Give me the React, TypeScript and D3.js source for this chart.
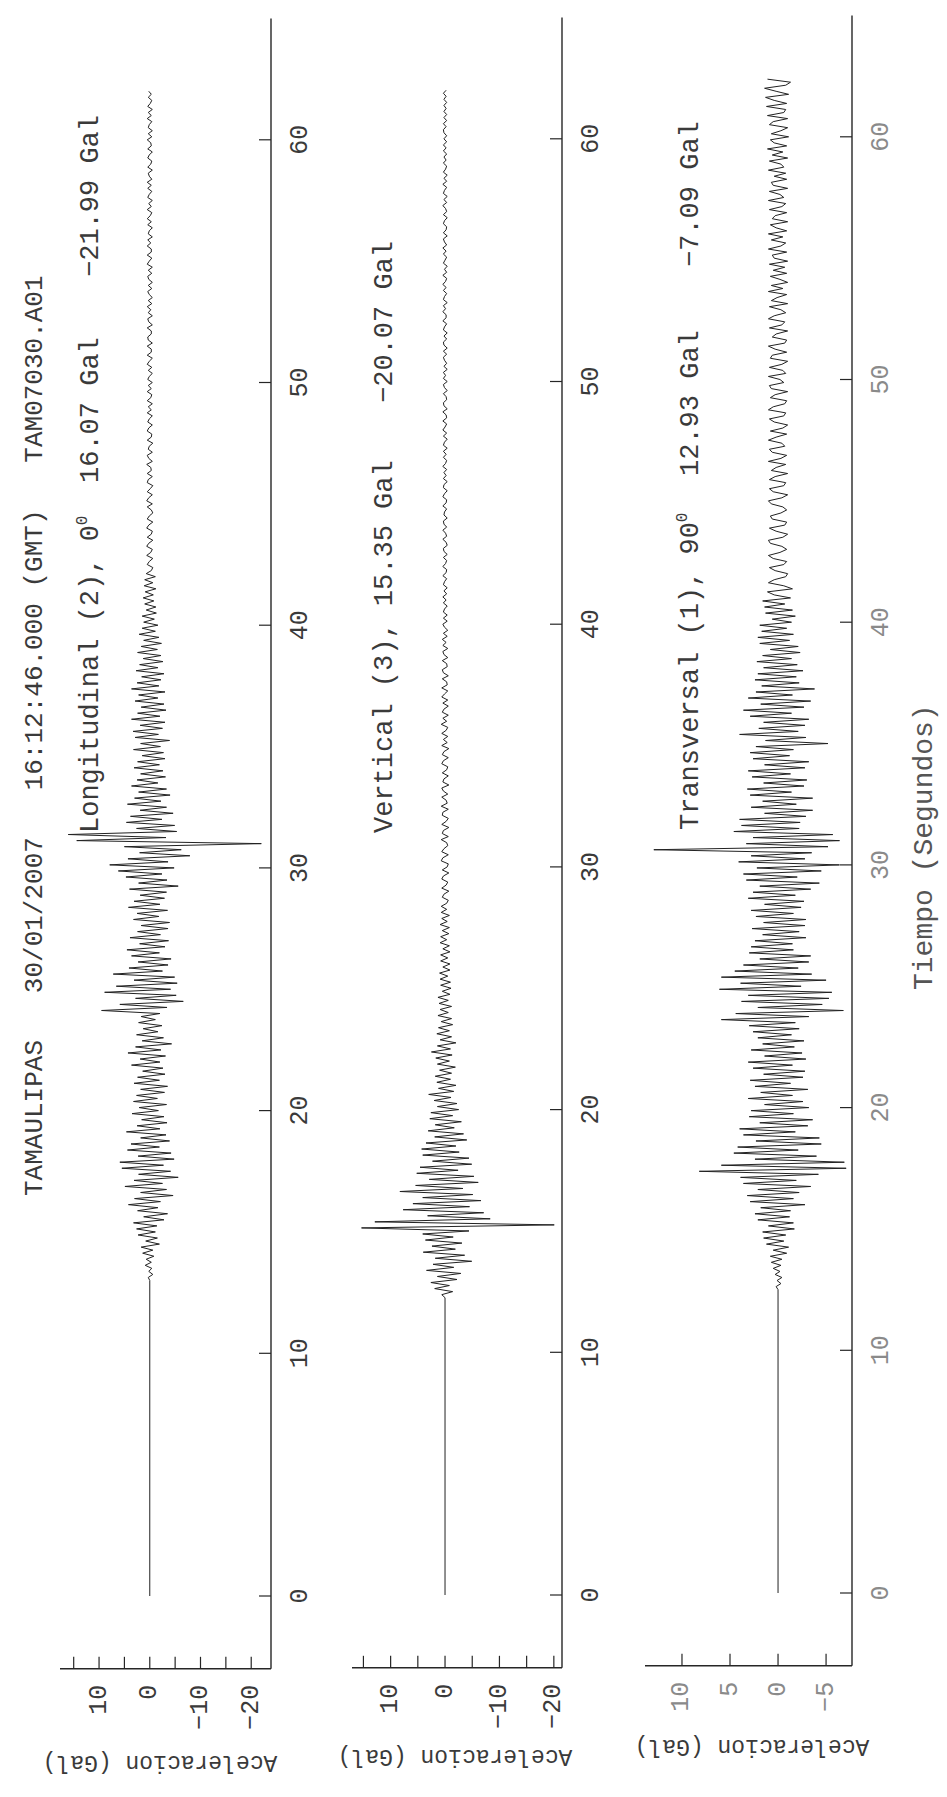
import React from 'react';
import * as d3 from 'd3';

// time between successive turning points of the traces (s)
const DT = 0.125;
const PX_PER_S = 24.27;
const timeTicks = [0, 10, 20, 30, 40, 50, 60];
const timeDomain = [-3, 65];

const titleText = 'TAMAULIPAS   30/01/2007   16:12:46.000 (GMT)   TAM07030.A01';

// Longitudinal (2), 0 deg  -- max 16.07, min -21.99 Gal
const longOnset = 13.0;
const longAcc = [
  0.3, -0.6, 0.2, -0.4, 0.9, -0.3, 0.7, -0.8,
  1.4, -0.6, 1.7, -1.9, 0.8, -1.5, 2.3, -1.1,
  2.6, -1.4, 3.2, -2.8, 1.2, -3.5, 2.4, -1.6,
  4.2, -2.1, 3.0, -4.6, 1.8, -3.3, 4.9, -2.5,
  3.1, -5.6, 2.2, -4.1, 5.5, -2.7, 5.9, -4.8,
  2.3, -4.2, 4.4, -1.9, 3.7, -3.9, 1.8, -3.2,
  4.6, -2.0, 2.5, -3.4, 1.6, -2.8, 3.5, -1.7,
  2.1, -3.3, 3.2, -1.5, 2.6, -2.9, 1.8, -3.5,
  3.1, -1.9, 2.4, -3.0, 1.4, -2.6, 3.6, -2.0,
  1.9, -3.1, 4.3, -2.2, 2.8, -4.3, 1.5, -2.7,
  2.6, -1.6, 1.3, -2.4, 2.2, -1.1, 1.7, -2.0,
  9.5, -3.4, 5.9, -6.6, 2.8, -5.2, 8.9, -4.1,
  6.6, -5.4, 3.1, -4.9, 7.2, -2.5, 4.1, -3.6,
  2.3, -4.2, 3.6, -1.9, 4.5, -3.0, 2.0, -3.7,
  3.9, -2.1, 2.4, -3.6, 1.7, -3.9, 3.2, -1.8,
  2.5, -3.5, 4.2, -2.0, 3.1, -2.9, 1.9, -3.3,
  4.0, -5.6, 2.2, -3.4, 4.7, -2.4, 6.2, -4.8,
  7.9, -3.6, 4.3, -7.9, 2.0, -6.2, 5.0, -21.99,
  14.4, -3.2, 16.07, -5.3, 2.6, -4.9, 4.6, -2.4,
  3.8, -4.6, 1.9, -3.3, 4.4, -2.2, 3.0, -4.0,
  2.2, -3.3, 3.6, -1.6, 2.5, -3.1, 1.8, -2.6,
  3.1, -1.9, 2.4, -3.0, 1.5, -2.7, 3.2, -2.1,
  1.8, -3.9, 2.9, -1.7, 3.3, -2.5, 1.9, -3.0,
  3.6, -2.0, 2.4, -3.2, 1.7, -2.8, 2.9, -1.6,
  2.2, -3.0, 3.6, -1.8, 2.5, -2.2, 1.6, -2.8,
  2.7, -1.6, 2.0, -2.6, 1.3, -2.2, 2.4, -1.5,
  1.7, -2.3, 1.2, -1.8, 2.1, -1.1, 1.5, -1.6,
  1.2, -0.9, 1.5, -1.3, 0.7, -1.2, 1.0, -0.8,
  1.3, -0.7, 0.9, -1.2, 1.1, -0.6, 1.0, -1.1,
  0.7, -0.3, -0.6, 0.5, 0.1, -0.6, 0.6, -0.2,
  -0.5, 0.6, 0.2, -0.6, 0.5, -0.3, -0.5, 0.6,
  0.2, -0.6, 0.5, 0.1, -0.6, -0.3, 0.5, -0.5,
  0.6, 0.2, -0.5, 0.5, -0.1, -0.6, 0.5, 0.3,
  -0.5, 0.5, -0.3, -0.2, 0.6, -0.5, 0.2, 0.5,
  -0.5, 0.3, 0.1, -0.6, 0.5, -0.3, -0.4, 0.5,
  0.2, -0.5, 0.4, 0.1, -0.5, 0.5, -0.3, 0.3,
  -0.5, 0.5, -0.2, -0.4, 0.5, -0.3, 0.3, -0.5,
  0.4, 0.1, -0.5, 0.3, -0.4, 0.5, 0.1, -0.5,
  0.5, -0.3, -0.3, 0.5, -0.5, 0.3, 0.4, -0.3,
  -0.3, 0.5, -0.5, 0.2, 0.4, -0.5, 0.3, -0.2,
  0.5, -0.4, 0.3, -0.5, 0.1, 0.4, -0.4, 0.3,
  -0.5, 0.2, 0.4, -0.4, 0.3, -0.5, 0.5, 0.1,
  -0.4, 0.5, -0.3, -0.3, 0.5, -0.2, 0.4, -0.5,
  0.3, 0.1, -0.5, 0.4, -0.3, 0.5, -0.1, -0.4,
  0.5, -0.3, 0.2, -0.5, 0.4, 0.1, -0.4, 0.4,
  -0.3, 0.5, -0.4, 0.1, 0.3, -0.5, 0.4, -0.2,
  -0.4, 0.4, 0.1, -0.5, 0.4, -0.3, -0.2, 0.5,
  -0.4, 0.3, -0.5, 0.3, 0.1, -0.4, 0.5, -0.3,
  0.3, -0.5, 0.4, -0.1, -0.4, 0.3, -0.3, 0.2,
];
const longTicks = [15, 10, 5, 0, -5, -10, -15, -20];
const longTickLabels = [10, 0, -10, -20];
const longDomain = [-23.9, 17.7];

// Vertical (3) -- max 15.35, min -20.07 Gal
const vertOnset = 12.25;
const vertAcc = [
  0.6, -1.4, 1.9, -0.8, 2.6, -2.2, 1.4, -2.9,
  3.4, -1.6, 2.2, -4.9, 1.8, -3.6, 4.0, -1.9,
  2.4, -3.1, 3.6, -1.5, 4.1, -4.4, 15.35, -20.07,
  12.9, -8.3, 3.2, -7.1, 7.7, -4.5, 5.9, -6.6,
  4.1, -5.1, 8.3, -3.3, 5.4, -6.1, 2.9, -5.3,
  5.2, -2.4, 4.6, -4.9, 2.3, -4.4, 4.1, -2.6,
  4.3, -2.0, 3.5, -4.0, 1.9, -3.4, 3.1, -1.7,
  1.8, -3.0, 2.8, -1.4, 2.6, -2.5, 1.4, -2.2,
  2.0, -1.1, 3.0, -1.6, 1.2, -2.0, 1.5, -1.0,
  1.8, -1.2, 1.0, -1.9, 1.4, -0.8, 1.7, -1.3,
  2.5, -1.0, 1.4, -2.0, 0.9, -1.2, 1.5, -0.8,
  1.2, -1.4, 0.7, -1.2, 1.3, -0.6, 0.9, -1.2,
  1.1, -0.6, 1.3, -0.9, 0.5, -1.1, 0.8, -1.0,
  0.9, -0.5, 1.0, -0.9, 0.4, -0.9, 0.8, -0.5,
  0.8, -0.9, 0.4, -0.8, 0.9, -0.3, 0.8, -0.7,
  0.5, -0.8, 0.9, -0.4, 0.6, -0.8, 0.7, -0.3,
  0.7, -0.3, -0.6, 0.5, 0.2, -0.7, 0.6, -0.2,
  -0.5, 0.6, 0.3, -0.7, 0.5, -0.4, -0.6, 0.7,
  0.4, -0.6, 0.6, 0.2, -0.5, -0.3, 0.7, -0.6,
  0.5, 0.3, -0.7, 0.6, -0.2, -0.6, 0.5, 0.4,
  -0.6, 0.7, -0.4, -0.2, 0.6, -0.5, 0.3, 0.6,
  -0.7, 0.4, 0.2, -0.6, 0.5, -0.3, -0.5, 0.6,
  0.3, -0.6, 0.5, 0.2, -0.7, 0.6, -0.4, 0.3,
  -0.5, 0.6, -0.2, -0.5, 0.7, -0.3, 0.4, -0.6,
  0.5, 0.2, -0.6, 0.4, -0.5, 0.6, 0.1, -0.5,
  0.6, -0.4, -0.3, 0.5, -0.6, 0.3, 0.5, -0.4,
  -0.3, 0.5, -0.5, 0.2, 0.4, -0.5, 0.4, -0.2,
  0.5, -0.4, 0.3, -0.5, 0.1, 0.4, -0.4, 0.3,
  -0.4, 0.3, 0.1, -0.4, 0.3, -0.2, 0.4, -0.3,
  0.2, -0.4, 0.3, 0.1, -0.3, 0.4, -0.2, -0.3,
  0.4, -0.1, -0.3, 0.3, -0.4, 0.2, 0.3, -0.4,
  -0.2, 0.4, -0.3, -0.1, 0.4, -0.3, 0.2, 0.3,
  -0.4, 0.2, 0.1, -0.3, 0.4, -0.2, -0.3, 0.4,
  0.1, -0.4, 0.3, 0.2, -0.4, 0.3, -0.2, 0.2,
  -0.3, 0.4, -0.1, -0.3, 0.3, -0.2, 0.3, -0.4,
  0.3, 0.1, -0.4, 0.3, -0.3, 0.4, 0.0, -0.3,
  0.4, -0.3, -0.2, 0.4, -0.4, 0.2, 0.3, -0.3,
  -0.2, 0.3, -0.4, 0.1, 0.3, -0.4, 0.3, -0.1,
  0.3, -0.4, 0.2, -0.3, 0.1, 0.3, -0.3, 0.3,
  -0.4, 0.2, 0.3, -0.3, 0.2, -0.4, 0.3, 0.1,
  -0.3, 0.4, -0.2, -0.2, 0.4, -0.1, 0.3, -0.4,
  0.3, 0.1, -0.3, 0.3, -0.2, 0.4, -0.1, -0.3,
  0.4, -0.3, 0.1, -0.4, 0.3, 0.0, -0.3, 0.3,
  -0.2, 0.4, -0.3, 0.1, 0.3, -0.4, 0.3, -0.2,
  -0.3, 0.3, 0.1, -0.4, 0.3, -0.3, -0.1, 0.4,
  -0.3, 0.2, -0.4, 0.3, 0.1, -0.3, 0.4, -0.3,
  0.2, -0.4, 0.3, -0.1, -0.3, 0.3, -0.2, 0.2,
  -0.3, 0.3, -0.2, 0.3, -0.3, 0.2, -0.3, 0.2,
  0.3, -0.2, 0.3, -0.3, 0.2, -0.3, 0.2, -0.2,
  0.2, -0.3, 0.2, -0.2, 0.3, -0.2,
];
const vertTicks = [15, 10, 5, 0, -5, -10, -15, -20];
const vertTickLabels = [10, 0, -10, -20];
const vertDomain = [-21.5, 17.1];

// Transversal (1), 90 deg -- max 12.93, min -7.09 Gal
const tranOnset = 12.5;
const tranAcc = [
  0.2, -0.3, 0.1, -0.4, 0.3, -0.2, 0.5, -0.3,
  0.7, -0.4, 0.8, -0.9, 0.5, -1.1, 1.2, -0.6,
  1.5, -0.8, 1.6, -1.7, 1.0, -1.6, 2.1, -1.2,
  2.4, -1.3, 1.8, -2.8, 2.9, -1.6, 3.2, -2.2,
  2.1, -3.4, 3.6, -1.9, 3.9, -4.2, 8.2, -7.09,
  5.9, -6.9, 2.4, -4.0, 4.6, -2.1, 4.2, -4.5,
  2.3, -4.3, 3.6, -1.8, 4.0, -3.1, 1.9, -3.6,
  3.0, -1.6, 2.8, -3.2, 1.4, -2.6, 3.1, -1.5,
  1.8, -3.1, 2.4, -1.3, 2.9, -2.6, 1.5, -2.8,
  2.6, -1.5, 3.1, -2.9, 1.4, -2.5, 2.8, -1.7,
  1.6, -2.7, 2.1, -1.4, 2.6, -2.2, 3.0, -1.8,
  5.9, -3.2, 4.4, -6.8, 2.1, -4.6, 3.8, -5.3,
  3.1, -5.6, 6.1, -2.4, 3.9, -5.0, 5.9, -3.5,
  4.5, -2.1, 3.6, -3.2, 1.9, -3.4, 3.0, -1.6,
  2.8, -1.5, 2.4, -2.9, 1.6, -2.2, 2.7, -2.8,
  1.5, -2.9, 2.3, -1.6, 2.8, -2.4, 1.4, -2.7,
  3.1, -1.8, 2.6, -3.4, 1.9, -4.3, 3.3, -2.0,
  3.6, -4.5, 2.2, -6.4, 4.1, -2.8, 2.8, -3.5,
  12.93, -5.2, 3.3, -6.4, 2.6, -5.7, 4.6, -2.2,
  3.8, -2.3, 4.0, -2.9, 1.4, -3.6, 2.8, -1.9,
  1.6, -3.6, 2.9, -1.4, 3.2, -2.7, 1.5, -3.0,
  2.7, -1.3, 3.1, -2.8, 1.4, -3.2, 2.6, -1.2,
  2.9, -1.6, 2.3, -5.2, 1.3, -2.9, 4.0, -2.1,
  2.0, -2.8, 1.5, -3.2, 2.9, -1.4, 3.6, -2.7,
  1.8, -3.4, 3.1, -1.5, 2.3, -3.8, 1.7, -2.2,
  2.4, -1.9, 2.1, -2.6, 1.5, -2.0, 2.2, -1.4,
  1.6, -2.3, 0.8, -2.1, 1.9, -1.2, 2.1, -1.6,
  1.7, -0.9, 1.9, -1.4, 0.6, -1.8, 1.3, -1.5,
  1.4, -0.7, 1.6, -1.3, 0.4, 1.1, -1.5, -0.6,
  1.0, 0.4, -0.8, -1.0, 0.3, 0.9, -0.6, -0.9,
  0.5, 1.0, -0.2, -0.9, -0.4, 0.8, 1.0, -0.5,
  -1.0, 0.2, 0.9, -0.7, -0.9, 0.6, 0.8, -0.3,
  -0.9, -0.5, 0.7, 1.0, -0.4, -1.0, 0.5, 0.9,
  -0.6, -0.8, 0.9, 0.3, -1.0, 0.7, 0.2, -0.8,
  1.0, -0.3, -0.9, 0.6, 0.9, -0.7, -0.4, 1.0,
  0.2, -0.9, 0.8, -0.5, -1.0, 0.4, 0.9, -0.6,
  -0.8, 1.0, 0.5, -0.7, -0.9, 0.8, 0.3, -1.0,
  0.7, 0.9, -0.6, -0.2, 1.0, -0.8, -0.5, 0.9,
  -0.4, -1.0, 0.8, 0.6, -0.9, 0.3, 1.0, -0.7,
  -0.9, 0.6, 0.2, -1.0, 0.9, -0.4, -0.7, 1.0,
  0.4, -0.8, -0.3, 0.9, -1.0, 0.7, 0.1, -0.9,
  1.0, -0.5, 0.7, -1.0, -0.2, 0.8, -0.9, 0.5,
  -0.7, 0.9, -1.0, 0.4, 0.6, -0.9, 1.0, -0.3,
  -0.8, 0.7, -0.5, 1.0, -0.9, 0.2, 0.8, -1.0,
  0.6, 0.3, -0.9, 0.9, -0.4, -0.8, 1.0, -0.6,
  -0.2, 0.9, -1.0, 0.5, 0.7, -0.9, 0.4, -0.8,
  1.0, -0.6, -0.3, 0.9, -1.0, 0.6, -0.5, 1.1,
  -0.9, 0.4, 0.8, -1.1, 0.7, -0.3, -1.0, 0.9,
  0.5, -1.0, 1.1, -0.6, -0.8, 1.2, -0.9, 0.4,
  1.3, -1.1, 0.2, 1.4, -0.8, -1.3, 1.1,
];
const tranTicks = [10, 5, 0, -5];
const tranTickLabels = [10, 5, 0, -5];
const tranDomain = [-7.7, 13.85];

const FONT = "'Liberation Mono', 'DejaVu Sans Mono', monospace";
const INK = '#262626';
const TEXT = '#3a3a3a';

const panels = [
  {
    acc: longAcc, onset: longOnset, domain: longDomain, ticks: longTicks, tickLabels: longTickLabels,
    leftX: 60, axisX: 271, t0Y: 1596, labelX: 98, tickColor: TEXT,
    texts: [
      { y: 833, main: 'Longitudinal (2), 0', sup: '0' },
      { y: 483, main: '16.07 Gal' },
      { y: 277, main: '\u221221.99 Gal' },
    ],
    accelX: 160, accelY: 1762,
  },
  {
    acc: vertAcc, onset: vertOnset, domain: vertDomain, ticks: vertTicks, tickLabels: vertTickLabels,
    leftX: 352, axisX: 562, t0Y: 1595, labelX: 392, tickColor: TEXT,
    texts: [
      { y: 833, main: 'Vertical (3), 15.35 Gal' },
      { y: 403, main: '\u221220.07 Gal' },
    ],
    accelX: 455, accelY: 1756,
  },
  {
    acc: tranAcc, onset: tranOnset, domain: tranDomain, ticks: tranTicks, tickLabels: tranTickLabels,
    leftX: 645, axisX: 852, t0Y: 1593, labelX: 698, tickColor: '#8a8a8a',
    texts: [
      { y: 830, main: 'Transversal (1), 90', sup: '0' },
      { y: 476, main: '12.93 Gal' },
      { y: 267, main: '\u22127.09 Gal' },
    ],
    accelX: 752, accelY: 1746,
  },
];

const fmt = (v: number) => (v < 0 ? '\u2212' + Math.abs(v) : String(v));

function Panel({ p }: { p: (typeof panels)[number] }) {
  const y = d3.scaleLinear()
    .domain(timeDomain)
    .range([p.t0Y - timeDomain[0] * PX_PER_S, p.t0Y - timeDomain[1] * PX_PER_S]);
  const x = d3.scaleLinear().domain(p.domain).range([p.axisX, p.leftX]);
  const baseY = y(timeDomain[0]);
  const topY = y(timeDomain[1]);

  const pts: [number, number][] = [[0, 0], [p.onset, 0]];
  p.acc.forEach((a, i) => pts.push([p.onset + (i + 1) * DT, a]));
  const line = d3.line<[number, number]>().x(d => x(d[1])).y(d => y(d[0]));

  return (
    <g>
      <path d={line(pts) || ''} fill="none" stroke="#222" strokeWidth={1} />
      {/* time axis */}
      <line x1={p.axisX} x2={p.axisX} y1={topY} y2={baseY} stroke={INK} strokeWidth={1.4} />
      {timeTicks.map(t => (
        <g key={t}>
          <line x1={p.axisX - 12} x2={p.axisX} y1={y(t)} y2={y(t)} stroke={INK} strokeWidth={1.2} />
          <text transform={`translate(${p.axisX + 29},${y(t)}) rotate(-90)`} textAnchor="middle"
            dominantBaseline="central" fontSize={25} fontFamily={FONT} fill={p.tickColor}>{t}</text>
        </g>
      ))}
      {/* acceleration axis */}
      <line x1={p.leftX} x2={p.axisX} y1={baseY} y2={baseY} stroke={INK} strokeWidth={1.4} />
      {p.ticks.map(v => (
        <line key={v} x1={x(v)} x2={x(v)} y1={baseY - 12} y2={baseY} stroke={INK} strokeWidth={1.2} />
      ))}
      {p.tickLabels.map(v => (
        <text key={v} transform={`translate(${x(v)},${baseY + 16}) rotate(-90)`} textAnchor="end"
          dominantBaseline="central" fontSize={25} fontFamily={FONT} fill={p.tickColor}>{fmt(v)}</text>
      ))}
      <text transform={`translate(${p.accelX},${p.accelY}) rotate(180)`} textAnchor="middle"
        dominantBaseline="central" fontSize={23} fontFamily={FONT} fill={TEXT}
        style={{ whiteSpace: 'pre' }}>{'Aceleracion (Gal)'}</text>
      {p.texts.map((s, i) => (
        <text key={i} transform={`translate(${p.labelX},${s.y}) rotate(-90)`} fontSize={27}
          fontFamily={FONT} fill={TEXT} style={{ whiteSpace: 'pre' }}>
          {s.main}
          {s.sup ? <tspan fontSize={16} dy={-11}>{s.sup}</tspan> : null}
        </text>
      ))}
    </g>
  );
}

export default function App() {
  return (
    <div style={{ position: 'absolute', left: 0, top: 0 }}>
      <svg width={947} height={1797} style={{ display: 'block', background: '#fff' }}>
        <rect width={947} height={1797} fill="#fff" />
        <text transform="translate(42,1196) rotate(-90)" fontSize={26} fontFamily={FONT} fill={TEXT}
          style={{ whiteSpace: 'pre' }}>{titleText}</text>
        {panels.map((p, i) => <Panel key={i} p={p} />)}
        <text transform="translate(932,990) rotate(-90)" fontSize={28}
          fontFamily={FONT} fill="#555" style={{ whiteSpace: 'pre' }}>{'Tiempo (Segundos)'}</text>
      </svg>
    </div>
  );
}
